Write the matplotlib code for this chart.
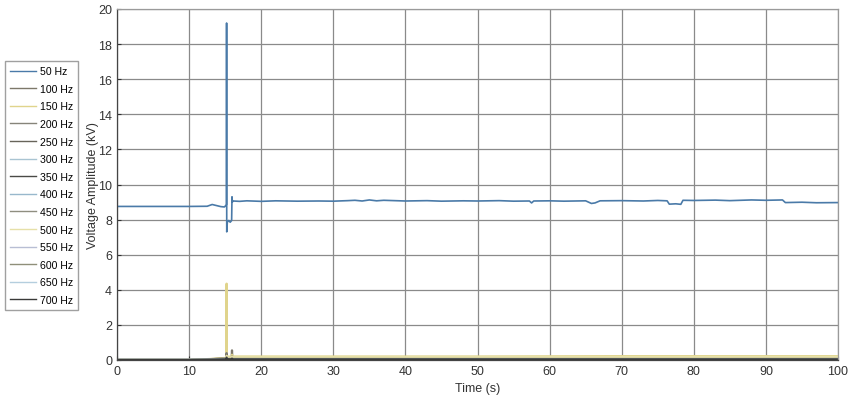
import numpy as np
import matplotlib
matplotlib.use("Agg")
import matplotlib.pyplot as plt

plt.rcParams["font.family"] = ["Liberation Sans", "DejaVu Sans"]

# 50 Hz component (kV)
t50 = [0, 5, 10, 12.5, 13.2, 13.8, 14.4, 14.9, 15.18, 15.2, 15.22, 15.3, 15.5,
       15.7, 15.9, 15.95, 16.0, 16.1, 17, 18, 20, 22, 25, 28, 30, 32, 33, 34,
       35, 36, 37, 40, 43, 45, 48, 50, 53, 55, 57.2, 57.5, 57.8, 60, 62, 65,
       65.8, 66.3, 67, 70, 73, 75, 76.3, 76.6, 77.5, 78.2, 78.5, 80, 83, 85,
       88, 90, 92.3, 92.7, 95, 97, 100]
v50 = [8.75, 8.75, 8.75, 8.76, 8.86, 8.80, 8.74, 8.72, 8.85, 19.2, 7.3, 7.85, 7.95,
       7.85, 7.95, 9.3, 9.0, 9.06, 9.04, 9.07, 9.04, 9.07, 9.05, 9.06, 9.05, 9.08, 9.10, 9.06,
       9.12, 9.07, 9.10, 9.06, 9.08, 9.05, 9.07, 9.06, 9.08, 9.05, 9.06, 8.95, 9.06, 9.07, 9.05, 9.07,
       8.92, 8.95, 9.07, 9.08, 9.06, 9.09, 9.07, 8.88, 8.90, 8.87, 9.10, 9.09, 9.11, 9.08,
       9.12, 9.10, 9.12, 8.97, 8.99, 8.96, 8.97]

# higher harmonics share one time base
th = [0, 10, 13, 15.18, 15.2, 15.22, 15.9, 15.95, 16.0, 20, 30, 50, 70, 90, 100]
harm = {
    "100 Hz": [0, 0, 0.05, 0.10, 0.80, 0.15, 0.12, 0.55, 0.12, 0.12, 0.12, 0.12, 0.12, 0.12, 0.12],
    "150 Hz": [0, 0, 0.06, 0.12, 4.35, 0.20, 0.18, 0.30, 0.20, 0.20, 0.20, 0.20, 0.22, 0.22, 0.22],
    "200 Hz": [0, 0, 0.04, 0.08, 0.40, 0.10, 0.09, 0.20, 0.10, 0.10, 0.10, 0.10, 0.10, 0.10, 0.10],
    "250 Hz": [0, 0, 0.04, 0.09, 0.30, 0.10, 0.09, 0.15, 0.09, 0.09, 0.09, 0.09, 0.09, 0.09, 0.09],
    "300 Hz": [0, 0, 0.03, 0.06, 0.20, 0.08, 0.07, 0.10, 0.08, 0.08, 0.08, 0.08, 0.08, 0.08, 0.08],
    "350 Hz": [0, 0, 0.03, 0.07, 0.25, 0.08, 0.07, 0.12, 0.07, 0.07, 0.07, 0.07, 0.07, 0.07, 0.07],
    "400 Hz": [0, 0, 0.02, 0.05, 0.15, 0.06, 0.05, 0.08, 0.06, 0.06, 0.06, 0.06, 0.06, 0.06, 0.06],
    "450 Hz": [0, 0, 0.03, 0.06, 0.20, 0.07, 0.06, 0.10, 0.07, 0.07, 0.07, 0.07, 0.07, 0.07, 0.07],
    "500 Hz": [0, 0, 0.04, 0.08, 0.25, 0.15, 0.14, 0.18, 0.16, 0.16, 0.16, 0.17, 0.17, 0.18, 0.18],
    "550 Hz": [0, 0, 0.02, 0.04, 0.12, 0.05, 0.05, 0.07, 0.05, 0.05, 0.05, 0.05, 0.05, 0.05, 0.05],
    "600 Hz": [0, 0, 0.03, 0.05, 0.15, 0.06, 0.06, 0.08, 0.06, 0.06, 0.06, 0.06, 0.06, 0.06, 0.06],
    "650 Hz": [0, 0, 0.02, 0.04, 0.10, 0.05, 0.04, 0.06, 0.05, 0.05, 0.05, 0.05, 0.05, 0.05, 0.05],
    "700 Hz": [0, 0, 0.02, 0.04, 0.12, 0.05, 0.04, 0.07, 0.04, 0.04, 0.04, 0.04, 0.04, 0.04, 0.04],
}

colors = {
    "50 Hz": "#4a7aa8", "100 Hz": "#7d786a", "150 Hz": "#e0d48c", "200 Hz": "#86847a",
    "250 Hz": "#67645a", "300 Hz": "#a9c4d2", "350 Hz": "#4a4a46", "400 Hz": "#98b8cc",
    "450 Hz": "#8f8e80", "500 Hz": "#e6e0a8", "550 Hz": "#b8bed4", "600 Hz": "#8f8f7a",
    "650 Hz": "#b4cede", "700 Hz": "#3a3a38",
}

fig = plt.figure(figsize=(8.5, 4.06), dpi=100)
ax = fig.add_axes([117 / 850, 45 / 406, 721 / 850, 351 / 406])

ax.plot(t50, v50, color=colors["50 Hz"], lw=1.2, label="50 Hz")
for name, vals in harm.items():
    ax.plot(th, vals, color=colors[name], lw=1.6, label=name)

ax.set_xlim(0, 100)
ax.set_ylim(0, 20)
ax.set_xticks(np.arange(0, 101, 10))
ax.set_yticks(np.arange(0, 21, 2))
ax.grid(True, color="#8a8a8a", lw=0.9)
ax.set_axisbelow(True)
ax.tick_params(direction="in", labelsize=9, colors="#333333", length=3)
for s in ax.spines.values():
    s.set_color("#9a9a9a")
    s.set_linewidth(0.9)
ax.spines["left"].set_color("#444444")
ax.spines["bottom"].set_color("#444444")
ax.set_xlabel("Time (s)", fontsize=9, color="#333333")
ax.set_ylabel("Voltage Amplitude (kV)", fontsize=9, color="#333333")
ax.yaxis.set_label_coords(-0.025, 0.5)

leg = fig.legend(loc="upper left", bbox_to_anchor=(5 / 850, 1 - 62 / 406),
                 fontsize=7.6, frameon=True, fancybox=False, edgecolor="#888888",
                 handlelength=2.4, labelspacing=0.72, borderpad=0.5,
                 handletextpad=0.4, borderaxespad=0)
for line in leg.get_lines():
    line.set_linewidth(1.0)

plt.savefig("out.png", dpi=100)
